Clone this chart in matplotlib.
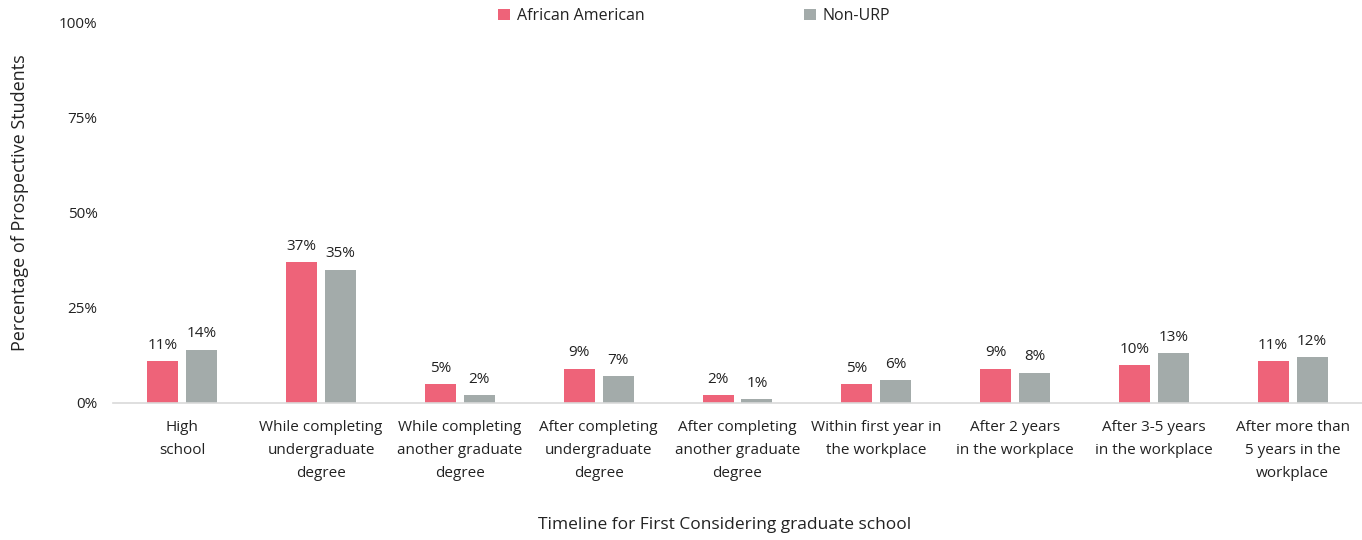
import matplotlib
matplotlib.use("Agg")
import matplotlib.pyplot as plt
import numpy as np

categories = ["High\nschool", "While completing\nundergraduate\ndegree",
              "While completing\nanother graduate\ndegree", "After completing\nundergraduate\ndegree",
              "After completing\nanother graduate\ndegree", "Within first year in\nthe workplace",
              "After 2 years\nin the workplace", "After 3-5 years\nin the workplace",
              "After more than\n5 years in the\nworkplace"]
african_american = [11, 37, 5, 9, 2, 5, 9, 10, 11]
non_urp = [14, 35, 2, 7, 1, 6, 8, 13, 12]
series_names = ["African American", "Non-URP"]
yticks = [0, 25, 50, 75, 100]

plt.rcParams['font.family'] = ['Open Sans', 'DejaVu Sans']
pink = "#EE6379"
gray = "#A3ABAA"
txt = "#222222"

fig = plt.figure(figsize=(13.62, 5.4), dpi=100)
ax = fig.add_axes([113/1362, 1-403/540, 1-113/1362, (403-22)/540])

x = np.arange(len(categories))
w = 0.223
off = 0.14
b1 = ax.bar(x - off, african_american, w, color=pink, label=series_names[0])
b2 = ax.bar(x + off, non_urp, w, color=gray, label=series_names[1])
for bars, vals in ((b1, african_american), (b2, non_urp)):
    for r, v in zip(bars, vals):
        ax.annotate(f"{v}%", (r.get_x() + r.get_width()/2, v), xytext=(0, 6),
                    textcoords="offset points", ha="center", va="bottom",
                    fontsize=11, color=txt)

ax.set_xlim(-0.5, len(categories) - 0.5)
ax.set_ylim(0, 100)
ax.set_yticks(yticks)
ax.set_yticklabels([f"{t}%" for t in yticks], fontsize=11, color=txt)
ax.set_xticks(x)
ax.set_xticklabels(categories, fontsize=11, color=txt, linespacing=1.72)
ax.tick_params(axis='both', length=0)
ax.tick_params(axis='x', pad=12)
ax.tick_params(axis='y', pad=11)
for s in ("top", "right", "left"):
    ax.spines[s].set_visible(False)
ax.spines["bottom"].set_color("#D9D9D9")
ax.spines["bottom"].set_linewidth(1.2)

ax.set_xlabel("Timeline for First Considering graduate school", fontsize=12.5, color=txt,
              labelpad=0, va="center")
ax.xaxis.set_label_coords(0.49, -0.32)
ax.set_ylabel("Percentage of Prospective Students", fontsize=13, color=txt, va="center")
ax.yaxis.set_label_coords(-0.0745, 0.525)

leg = fig.legend(handles=[b1, b2], loc="center", bbox_to_anchor=(0.5095, 1-16/540), ncol=2,
                 frameon=False, fontsize=11.5, handlelength=0.75, handleheight=0.75,
                 handletextpad=0.4, columnspacing=10)
for t in leg.get_texts():
    t.set_color(txt)

fig.savefig("out.png", dpi=100)
